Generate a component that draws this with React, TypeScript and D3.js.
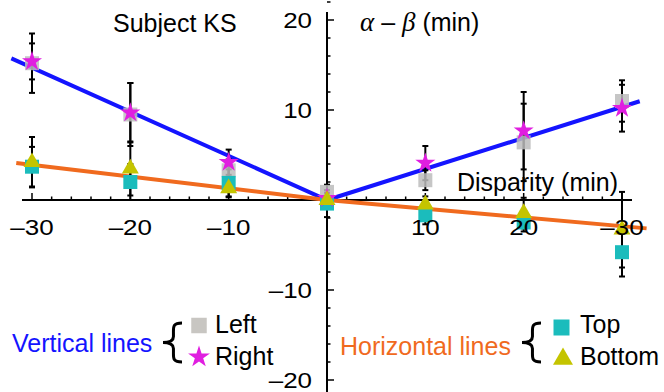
import React from "react";
import * as d3 from "d3";

const width = 664;
const height = 392;

// disparity (min) on x, alpha - beta (min) on y
const disparity = [-30, -20, -10, 0, 10, 20, 30];
const leftMean = [15.2, 9.5, 3.3, 0.9, 2.2, 6.4, 11.0];
const leftErr = [3.3, 3.5, 1.2, 0.8, 1.1, 4.3, 2.3];
const rightMean = [15.4, 9.7, 4.2, 0.2, 4.1, 7.7, 10.2];
const rightErr = [2.0, 3.3, 1.4, 0.6, 1.9, 4.3, 2.6];
const topMean = [3.7, 2.0, 1.9, -0.4, -1.7, -2.5, -5.8];
const topErr = [2.2, 2.0, 1.5, 1.5, 1.0, 1.0, 2.7];
const bottomMean = [4.2, 3.5, 1.3, 0, -0.5, -1.45, -3.3];
const bottomErr = [2.8, 3.0, 1.0, 0.8, 0.9, 1.7, 4.2];

// fitted lines through origin: [x end, slope] for each half
const verticalFit = [
  [-32.1, -0.49],
  [31.8, 0.345],
];
const horizontalFit = [
  [-31.6, -0.13],
  [32.5, -0.097],
];

const xTickValues = [-30, -20, -10, 10, 20, 30];
const xTickLabels = ["\u201330", "\u201320", "\u201310", "10", "20", "\u201330"];
const yTickValues = [20, 10, -10, -20];
const yTickLabels = ["20", "10", "\u201310", "\u201320"];

const font = "'Liberation Sans', Arial, Helvetica, sans-serif";
const serif = "'Liberation Serif', 'DejaVu Serif', serif";
const blue = "#1414ff";
const orange = "#f06a1e";
const gray = "#bcbcbc";
const teal = "#1bbcbc";
const magenta = "#e01ee0";
const olive = "#c4c400";

const x = d3.scaleLinear().domain([-30, 30]).range([32, 622]);
const y = d3.scaleLinear().domain([-20, 20]).range([380, 20]);

const star = (size: number) => d3.symbol(d3.symbolStar, size)()!;
const square = (size: number) => d3.symbol(d3.symbolSquare, size)()!;
const tri = (size: number) => d3.symbol(d3.symbolTriangle, size)()!;

// curly brace, (cx, cy) = tip on the left
const brace = (cx: number, cy: number, h: number, w: number) => {
  const t = cy - h / 2;
  const b = cy + h / 2;
  const m = cx + w * 0.55;
  const r = cx + w;
  return `M${r},${t} C${m - 1},${t} ${m},${t + 4} ${m},${t + 10} L${m},${cy - 6} C${m},${cy - 2} ${m - 3},${cy} ${cx},${cy} C${m - 3},${cy} ${m},${cy + 2} ${m},${cy + 6} L${m},${b - 10} C${m},${b - 4} ${m - 1},${b} ${r},${b}`;
};

const ErrorBars = ({ mean, err }: { mean: number[]; err: number[] }) => (
  <g stroke="#000" strokeWidth={2}>
    {disparity.map((d, i) => (
      <g key={i}>
        <line x1={x(d)} x2={x(d)} y1={y(mean[i] + err[i])} y2={y(mean[i] - err[i])} />
        <line x1={x(d) - 3} x2={x(d) + 3} y1={y(mean[i] + err[i])} y2={y(mean[i] + err[i])} />
        <line x1={x(d) - 3} x2={x(d) + 3} y1={y(mean[i] - err[i])} y2={y(mean[i] - err[i])} />
      </g>
    ))}
  </g>
);

const fitLine = (fit: number[][]) =>
  d3.line<number[]>().x((p) => x(p[0])).y((p) => y(p[1]))([
    [fit[0][0], fit[0][0] * fit[0][1]],
    [0, 0],
    [fit[1][0], fit[1][0] * fit[1][1]],
  ])!;

const TickText = ({ tx, ty, anchor, children }: any) => (
  <text
    transform={`translate(${tx},${ty}) scale(1.18,1)`}
    fontSize={22}
    textAnchor={anchor}
  >
    {children}
  </text>
);

const App = () => {
  const minorX = d3.range(-30, 31, 2);
  const minorY = d3.range(-22, 23, 2);
  return (
    <svg
      width={width}
      height={height}
      style={{ position: "absolute", left: 0, top: 0, background: "#fff" }}
      fontFamily={font}
    >
      {/* axes */}
      <line x1={22} x2={632} y1={y(0)} y2={y(0)} stroke="#000" strokeWidth={2} />
      <line x1={x(0)} x2={x(0)} y1={12} y2={392} stroke="#000" strokeWidth={2} />
      {minorX.map((v) => (
        <line
          key={"mx" + v}
          x1={x(v)}
          x2={x(v)}
          y1={y(0)}
          y2={y(0) - (v % 10 === 0 ? 7 : 3.5)}
          stroke="#000"
          strokeWidth={1.5}
        />
      ))}
      {minorY.map((v) => (
        <line
          key={"my" + v}
          x1={x(0)}
          x2={x(0) + (v % 10 === 0 ? 7 : 3.5)}
          y1={y(v)}
          y2={y(v)}
          stroke="#000"
          strokeWidth={1.5}
        />
      ))}

      {/* fitted lines */}
      <path d={fitLine(verticalFit)} stroke={blue} strokeWidth={4} fill="none" />
      <path d={fitLine(horizontalFit)} stroke={orange} strokeWidth={4} fill="none" />

      <ErrorBars mean={leftMean} err={leftErr} />
      <ErrorBars mean={rightMean} err={rightErr} />
      <ErrorBars mean={topMean} err={topErr} />
      <ErrorBars mean={bottomMean} err={bottomErr} />

      {disparity.map((d, i) => (
        <path key={"l" + i} d={square(196)} transform={`translate(${x(d)},${y(leftMean[i])})`} fill={gray} opacity={0.85} />
      ))}
      {disparity.map((d, i) => (
        <path key={"t" + i} d={square(196)} transform={`translate(${x(d)},${y(topMean[i])})`} fill={teal} />
      ))}
      {disparity.map((d, i) => (
        <path key={"r" + i} d={star(125)} transform={`translate(${x(d)},${y(rightMean[i])})`} fill={magenta} />
      ))}
      {disparity.map((d, i) => (
        <path key={"b" + i} d={tri(125)} transform={`translate(${x(d)},${y(bottomMean[i])})`} fill={olive} />
      ))}

      {/* tick labels on top of the marks */}
      {xTickValues.map((v, i) => (
        <TickText key={"xl" + v} tx={x(v)} ty={235} anchor="middle">
          {xTickLabels[i]}
        </TickText>
      ))}
      {yTickValues.map((v, i) => (
        <TickText key={"yl" + v} tx={312} ty={y(v) + 8} anchor="end">
          {yTickLabels[i]}
        </TickText>
      ))}

      {/* titles */}
      <text x={113} y={32} fontSize={25}>Subject KS</text>
      <text x={360} y={31} fontSize={25}>
        <tspan fontFamily={serif} fontStyle="italic" fontSize={27}>α</tspan>
        <tspan> – </tspan>
        <tspan fontFamily={serif} fontStyle="italic" fontSize={27}>β</tspan>
        <tspan> (min)</tspan>
      </text>
      <text x={618} y={191} fontSize={25} textAnchor="end">Disparity (min)</text>

      {/* legend */}
      <text x={12} y={352} fontSize={25} fill={blue}>Vertical lines</text>
      <path d={brace(163, 342.5, 39, 19)} stroke="#000" strokeWidth={3} fill="none" />
      <path d={square(240)} transform="translate(199,325.5)" fill="#c8c6c2" />
      <text x={215} y={333} fontSize={25}>Left</text>
      <path d={star(148)} transform="translate(199,357)" fill={magenta} />
      <text x={215} y={365} fontSize={25}>Right</text>

      <text x={340} y={355} fontSize={25} fill={orange}>Horizontal lines</text>
      <path d={brace(522, 342.5, 39, 19)} stroke="#000" strokeWidth={3} fill="none" />
      <path d={square(256)} transform="translate(561.5,327.5)" fill={teal} />
      <text x={580} y={333} fontSize={25}>Top</text>
      <path d={tri(173)} transform="translate(563,359)" fill={olive} />
      <text x={580} y={365} fontSize={25}>Bottom</text>
    </svg>
  );
};

export default App;
